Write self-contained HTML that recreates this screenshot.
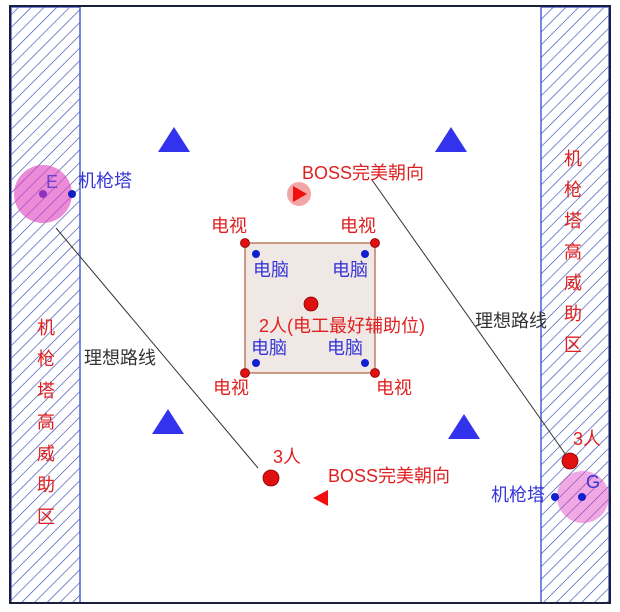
<!DOCTYPE html><html><head><meta charset="utf-8"><style>body{margin:0;background:#fff}svg text{font-family:"Liberation Sans","Noto Sans CJK SC",sans-serif}</style></head><body>
<svg width="620" height="607" viewBox="0 0 620 607" xmlns="http://www.w3.org/2000/svg">
<defs><pattern id="h" width="9" height="9" patternUnits="userSpaceOnUse" patternTransform="rotate(45)"><line x1="0" y1="0" x2="0" y2="9" stroke="#2a3fb0" stroke-width="1.2"/></pattern></defs>
<rect x="0" y="0" width="620" height="607" fill="#fff"/>
<rect x="11" y="7" width="69" height="596" fill="url(#h)" stroke="#4a60d8" stroke-width="1.5"/>
<rect x="541" y="7" width="68" height="596" fill="url(#h)" stroke="#4a60d8" stroke-width="1.5"/>
<rect x="10" y="6" width="600" height="597" fill="none" stroke="#1a1f3a" stroke-width="2"/>
<line x1="56" y1="228" x2="258" y2="468" stroke="#333" stroke-width="1"/>
<line x1="372" y1="180" x2="566" y2="455" stroke="#333" stroke-width="1"/>
<rect x="245" y="243" width="130" height="130" fill="#f0e8e4" stroke="#b06040" stroke-width="1.2"/>
<circle cx="43" cy="194" r="29" fill="#e040c0" fill-opacity="0.6"/>
<circle cx="43" cy="194" r="4" fill="#9030c0"/><circle cx="72" cy="194" r="4" fill="#1020c0"/>
<text x="46" y="188" font-size="18" fill="#7040d0">E</text>
<text x="78" y="187" font-size="18" fill="#3535d8">机枪塔</text>
<circle cx="583" cy="497" r="26" fill="#e040c0" fill-opacity="0.45"/>
<circle cx="582" cy="497" r="4" fill="#1020d0"/><circle cx="555" cy="497" r="4" fill="#1020d0"/>
<text x="586" y="488" font-size="18" fill="#3535d8">G</text>
<text x="491" y="501" font-size="18" fill="#3535d8">机枪塔</text>
<polygon points="174,127 158,152 190,152" fill="#3333ee"/>
<polygon points="451,127 435,152 467,152" fill="#3333ee"/>
<polygon points="168,409 152,434 184,434" fill="#3333ee"/>
<polygon points="464,414 448,439 480,439" fill="#3333ee"/>
<text x="302" y="179" font-size="18" fill="#e02020">BOSS完美朝向</text>
<circle cx="299" cy="194" r="12" fill="#f08080" fill-opacity="0.7"/>
<polygon points="293,186 293,202 307,194" fill="#f01010"/>
<text x="328" y="482" font-size="18" fill="#e02020">BOSS完美朝向</text>
<polygon points="328,490 328,506 313,498" fill="#f01010"/>
<circle cx="245" cy="243" r="4.5" fill="#e01010" stroke="#800" stroke-width="0.8"/>
<circle cx="375" cy="243" r="4.5" fill="#e01010" stroke="#800" stroke-width="0.8"/>
<circle cx="245" cy="373" r="4.5" fill="#e01010" stroke="#800" stroke-width="0.8"/>
<circle cx="375" cy="373" r="4.5" fill="#e01010" stroke="#800" stroke-width="0.8"/>
<circle cx="256" cy="254" r="4" fill="#1020d0"/><circle cx="365" cy="254" r="4" fill="#1020d0"/>
<circle cx="256" cy="363" r="4" fill="#1020d0"/><circle cx="365" cy="363" r="4" fill="#1020d0"/>
<circle cx="311" cy="304" r="7" fill="#e01010" stroke="#800" stroke-width="0.8"/>
<text x="211" y="232" font-size="18" fill="#e02020">电视</text>
<text x="340" y="232" font-size="18" fill="#e02020">电视</text>
<text x="213" y="394" font-size="18" fill="#e02020">电视</text>
<text x="376" y="394" font-size="18" fill="#e02020">电视</text>
<text x="253" y="276" font-size="18" fill="#3535d8">电脑</text>
<text x="332" y="276" font-size="18" fill="#3535d8">电脑</text>
<text x="251" y="354" font-size="18" fill="#3535d8">电脑</text>
<text x="327" y="354" font-size="18" fill="#3535d8">电脑</text>
<text x="259" y="332" font-size="18" fill="#e02020">2人(电工最好辅助位)</text>
<text x="84" y="364" font-size="18" fill="#333">理想路线</text>
<text x="475" y="327" font-size="18" fill="#333">理想路线</text>
<circle cx="271" cy="478" r="8" fill="#e01010" stroke="#800" stroke-width="0.8"/>
<text x="273" y="463" font-size="18" fill="#e02020">3人</text>
<circle cx="570" cy="461" r="8" fill="#e01010" stroke="#800" stroke-width="0.8"/>
<text x="573" y="445" font-size="18" fill="#e02020">3人</text>
<g font-size="18" fill="#e02020" text-anchor="middle">
<text x="46" y="334">机</text><text x="46" y="365">枪</text><text x="46" y="397">塔</text><text x="46" y="428">高</text><text x="46" y="460">威</text><text x="46" y="491">助</text><text x="46" y="523">区</text>
<text x="573" y="165">机</text><text x="573" y="196">枪</text><text x="573" y="227">塔</text><text x="573" y="258">高</text><text x="573" y="289">威</text><text x="573" y="320">助</text><text x="573" y="351">区</text>
</g>
</svg></body></html>
